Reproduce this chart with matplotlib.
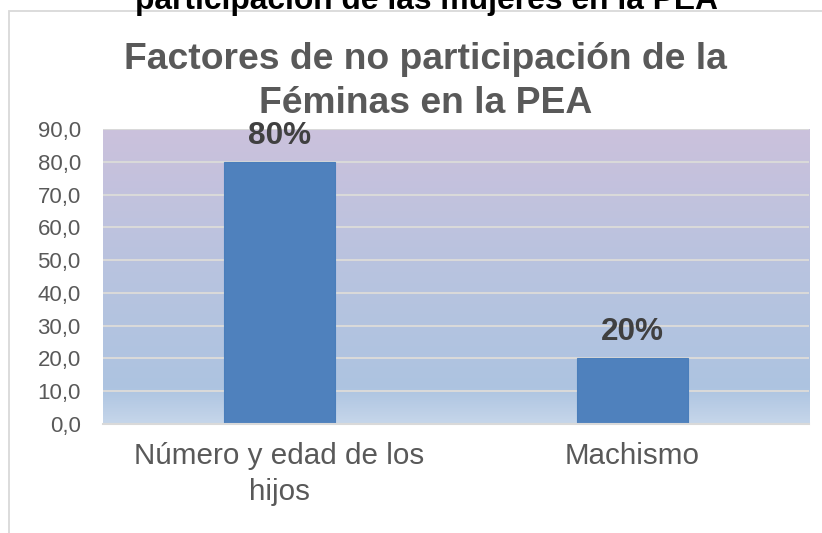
import numpy as np
import matplotlib.pyplot as plt
from matplotlib.colors import LinearSegmentedColormap
from matplotlib.patches import Rectangle

# data
categories = ['Número y edad de los\nhijos', 'Machismo']
values = [80.0, 20.0]
value_labels = ['80%', '20%']
y_ticks = [0, 10, 20, 30, 40, 50, 60, 70, 80, 90]

title_lines = ['Factores de no participación de la', 'Féminas en la PEA']
cut_title = 'participación de las mujeres en la PEA'

plt.rcParams['font.family'] = ['Liberation Sans', 'DejaVu Sans']

W, H = 822, 533
fig = plt.figure(figsize=(W / 100, H / 100), dpi=100)
fig.patch.set_facecolor('white')

# chart frame (cut off at right and bottom in the reference)
fig.add_artist(Rectangle((8.5 / W, -0.1), 1.2, 1.1 - 11 / H, transform=fig.transFigure,
                         fill=False, edgecolor='#d9d9d9', linewidth=1.3))

ax = fig.add_axes([103 / W, 1 - 424 / H, (809 - 103) / W, (424 - 129) / H])

x = np.arange(len(categories))
ax.set_xlim(-0.5, len(categories) - 0.5)
ax.set_ylim(0, 90)

# gradient plot-area background
cmap = LinearSegmentedColormap.from_list('bg', [(0.0, '#c6d6ea'), (0.12, '#adc4e1'),
                                                (0.55, '#b9c3df'), (1.0, '#cbc1dc')])
grad = np.linspace(0, 1, 256).reshape(-1, 1)
ax.imshow(grad, cmap=cmap, aspect='auto', origin='lower',
          extent=[-0.5, len(categories) - 0.5, 0, 90], zorder=0)

ax.set_axisbelow(True)
ax.yaxis.grid(True, color='#d9d9d9', linewidth=1.5)
ax.bar(x, values, width=0.315, color='#4f81bd', edgecolor='#4a7ebb', linewidth=0.8, zorder=2)

for xi, v, lab in zip(x, values, value_labels):
    ax.annotate(lab, (xi, v), xytext=(0, 13), textcoords='offset points',
                ha='center', va='baseline', fontsize=22.7, fontweight='bold',
                color='#404040', zorder=3)

ax.set_yticks(y_ticks)
ax.set_yticklabels([f'{t:.1f}'.replace('.', ',') for t in y_ticks])
ax.set_xticks(x)
ax.set_xticklabels(categories, linespacing=1.35)
ax.tick_params(axis='y', length=0, pad=16, labelsize=16, labelcolor='#595959')
ax.tick_params(axis='x', length=0, pad=13, labelsize=21.3, labelcolor='#595959')

for side in ['top', 'right', 'left']:
    ax.spines[side].set_visible(False)
ax.spines['bottom'].set_color('#d9d9d9')
ax.spines['bottom'].set_linewidth(1.5)

# titles
fig.text(425 / W, 1 - 69 / H, title_lines[0], ha='center', va='baseline',
         fontsize=26.8, fontweight='bold', color='#595959')
fig.text(426 / W, 1 - 113 / H, title_lines[1], ha='center', va='baseline',
         fontsize=26.8, fontweight='bold', color='#595959')
# heading of the page above the chart, cut by the top edge as in the reference
fig.text(426 / W, 1 - 9 / H, cut_title, ha='center', va='baseline',
         fontsize=22.9, fontweight='bold', color='black')

fig.savefig('out.png', dpi=100)
